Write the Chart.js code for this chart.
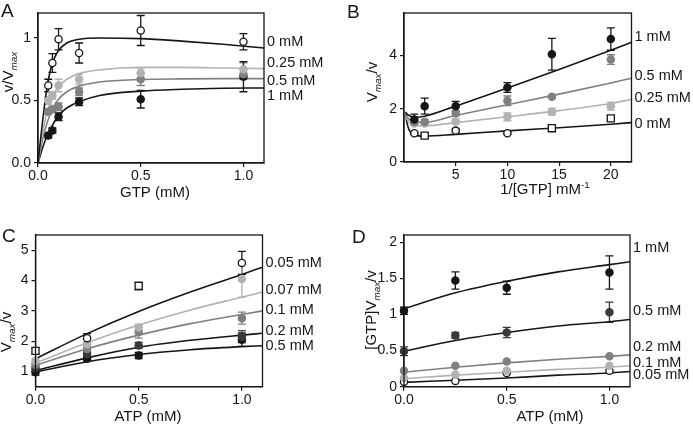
<!DOCTYPE html>
<html>
<head>
<meta charset="utf-8">
<script src="https://cdn.jsdelivr.net/npm/chart.js@4.4.1/dist/chart.umd.min.js"></script>
<style>
  body { margin: 0; background: #fff; }
  #wrap { position: relative; width: 693px; height: 426px; overflow: hidden; }
  canvas { position: absolute; }
</style>
</head>
<body>
<div id="wrap">
  <canvas id="chartA" width="346" height="213" style="left:0;top:0"></canvas>
  <canvas id="chartB" width="347" height="213" style="left:346px;top:0"></canvas>
  <canvas id="chartC" width="346" height="213" style="left:0;top:213px"></canvas>
  <canvas id="chartD" width="347" height="213" style="left:346px;top:213px"></canvas>
</div>
<script>
// ---- Panel A: v/Vmax vs GTP ----
const aTicksX = [0, 0.5, 1];
const aLabelsX = ['0.0', '0.5', '1.0'];
const aTicksY = [0, 0.5, 1];
const aLabelsY = ['0.0', '0.5', '1'];
const aNames = ['0 mM', '0.25 mM', '0.5 mM', '1 mM'];
const aLabelY = [0.965, 0.80, 0.66, 0.54];
const aGtp = [0.05, 0.07, 0.1, 0.2, 0.5, 1.0];
const aV0 = [0.62, 0.80, 0.99, 0.88, 1.06, 0.97];
const aE0 = [0.05, 0.075, 0.085, 0.08, 0.12, 0.065];
const aV025 = [0.50, 0.54, 0.62, 0.67, 0.72, 0.75];
const aE025 = [0.03, 0.03, 0.05, 0.04, 0.04, 0.05];
const aV05 = [0.41, 0.43, 0.45, 0.57, 0.67, 0.71];
const aE05 = [0.02, 0.02, 0.03, 0.03, 0.05, 0.04];
const aV1 = [0.22, 0.26, 0.37, 0.49, 0.51, 0.69];
const aE1 = [0.02, 0.02, 0.03, 0.03, 0.07, 0.12];
const aFitX = [0, 0.02, 0.04, 0.06, 0.08, 0.1, 0.14, 0.2, 0.3, 0.5, 0.7, 0.9, 1.1];
const aFit0 = [0, 0.30, 0.56, 0.74, 0.84, 0.90, 0.96, 0.99, 1.0, 0.995, 0.975, 0.95, 0.92];
const aFit025 = [0, 0.22, 0.38, 0.49, 0.56, 0.61, 0.67, 0.715, 0.745, 0.765, 0.765, 0.76, 0.755];
const aFit05 = [0, 0.17, 0.30, 0.39, 0.46, 0.51, 0.57, 0.615, 0.648, 0.668, 0.673, 0.675, 0.675];
const aFit1 = [0, 0.11, 0.20, 0.27, 0.33, 0.38, 0.44, 0.49, 0.54, 0.575, 0.59, 0.598, 0.60];

// ---- Panel B: Vmax/v vs 1/[GTP] ----
const bTicksX = [5, 10, 15, 20];
const bLabelsX = ['5', '10', '15', '20'];
const bTicksY = [0, 2, 4];
const bLabelsY = ['0', '2', '4'];
const bNames = ['1 mM', '0.5 mM', '0.25 mM', '0 mM'];
const bLabelY = [4.71, 3.22, 2.40, 1.43];
const bInv = [1, 2, 5, 10, 14.3, 20];
const bV1 = [1.60, 2.10, 2.10, 2.80, 4.05, 4.62];
const bE1 = [0.2, 0.3, 0.18, 0.18, 0.6, 0.42];
const bV05 = [1.50, 1.51, 1.83, 2.30, 2.45, 3.85];
const bE05 = [0.08, 0.08, 0.1, 0.18, 0.05, 0.18];
const bV025 = [1.45, 1.45, 1.52, 1.70, 1.89, 2.10];
const bE025 = [0.06, 0.06, 0.1, 0.15, 0.12, 0.15];
const bV0 = [1.08, 0.99, 1.18, 1.08, 1.27, 1.64];
const bE0 = [0.04, 0.06, 0.06, 0.04, 0.08, 0.1];
const bFitX = [0.15, 0.3, 0.5, 0.8, 1, 2, 5, 10, 15, 20, 22];
const bFit1 = [1.88, 1.8, 1.75, 1.7, 1.68, 1.72, 2.1, 2.78, 3.48, 4.2, 4.5];
const bFit05 = [1.82, 1.7, 1.6, 1.52, 1.5, 1.5, 1.75, 2.15, 2.55, 2.97, 3.15];
const bFit025 = [1.75, 1.6, 1.48, 1.4, 1.38, 1.36, 1.48, 1.7, 1.93, 2.2, 2.35];
const bFit0 = [1.8, 1.45, 1.2, 1.06, 1.01, 0.97, 1.04, 1.17, 1.29, 1.42, 1.48];

// ---- Panel C: Vmax/v vs ATP ----
const cTicksX = [0, 0.5, 1];
const cLabelsX = ['0.0', '0.5', '1.0'];
const cTicksY = [1, 2, 3, 4, 5];
const cLabelsY = ['1', '2', '3', '4', '5'];
const cNames = ['0.05 mM', '0.07 mM', '0.1 mM', '0.2 mM', '0.5 mM'];
const cLabelY = [4.59, 3.68, 3.03, 2.35, 1.85];
const cAtp = [0, 0.25, 0.5, 1.0];
const cV005 = [1.68, 2.10, 3.82, 4.58];
const cE005 = [0.1, 0.15, 0.12, 0.38];
const cV007 = [1.35, 1.90, 2.45, 4.05];
const cE007 = [0.08, 0.1, 0.1, 0.6];
const cV01 = [1.22, 1.74, 2.30, 2.76];
const cE01 = [0.06, 0.08, 0.2, 0.2];
const cV02 = [1.10, 1.58, 1.86, 2.15];
const cE02 = [0.06, 0.06, 0.1, 0.2];
const cV05 = [0.98, 1.42, 1.53, 2.05];
const cE05 = [0.1, 0.08, 0.1, 0.22];
const cFitX = [0, 0.25, 0.5, 0.75, 1.0, 1.1];
const cFit005 = [1.42, 2.25, 2.98, 3.62, 4.2, 4.44];
const cFit007 = [1.28, 1.95, 2.53, 3.03, 3.45, 3.62];
const cFit01 = [1.2, 1.75, 2.2, 2.58, 2.88, 3.0];
const cFit02 = [1.03, 1.45, 1.8, 2.03, 2.2, 2.26];
const cFit05 = [0.98, 1.32, 1.56, 1.72, 1.82, 1.85];

// ---- Panel D: [GTP]Vmax/v vs ATP ----
const dTicksX = [0, 0.5, 1];
const dLabelsX = ['0.0', '0.5', '1.0'];
const dTicksY = [0, 0.5, 1, 1.5, 2];
const dLabelsY = ['0', '0.5', '1', '1.5', '2'];
const dNames = ['1 mM', '0.5 mM', '0.2 mM', '0.1 mM', '0.05 mM'];
const dLabelY = [1.92, 1.05, 0.55, 0.33, 0.16];
const dAtp = [0, 0.25, 0.5, 1.0];
const dV1 = [1.05, 1.47, 1.37, 1.58];
const dE1 = [0.05, 0.12, 0.09, 0.23];
const dV05 = [0.49, 0.71, 0.75, 1.03];
const dE05 = [0.06, 0.04, 0.07, 0.14];
const dV02 = [0.22, 0.29, 0.35, 0.42];
const dV01 = [0.12, 0.17, 0.22, 0.29];
const dV005 = [0.07, 0.08, 0.19, 0.22];
const dFitX = [0, 0.25, 0.5, 0.75, 1.0, 1.1];
const dFit1 = [1.08, 1.3, 1.46, 1.59, 1.69, 1.73];
const dFit05 = [0.49, 0.64, 0.75, 0.84, 0.9, 0.93];
const dFit02 = [0.2, 0.27, 0.33, 0.38, 0.42, 0.44];
const dFit01 = [0.11, 0.16, 0.2, 0.24, 0.27, 0.29];
const dFit005 = [0.06, 0.09, 0.12, 0.16, 0.19, 0.21];

const FONT = "'Liberation Sans', Arial, Helvetica, sans-serif";
const BLACK = '#161616';
const DARK = '#3a3a3a';
const GRAY = '#808080';
const LIGHT = '#b2b2b2';
const WHITE = '#ffffff';

function pts(xs, ys) {
    return xs.map((x, i) => ({ x: x, y: ys[i] }));
}

function markers(label, xs, ys, errs, color, fill, shapes) {
    return {
        label: label,
        data: pts(xs, ys),
        errors: errs,
        showLine: false,
        pointStyle: shapes || 'circle',
        pointRadius: shapes ? shapes.map(s => s === 'rect' ? 5 : 3.6) : 3.6,
        borderWidth: 1.3,
        borderColor: color,
        backgroundColor: fill,
        clip: false,
        order: 1
    };
}

function curve(label, xs, ys, color) {
    return {
        label: label,
        data: pts(xs, ys),
        showLine: true,
        pointRadius: 0,
        borderWidth: 1.6,
        borderColor: color,
        cubicInterpolationMode: 'monotone',
        fill: false,
        order: 2
    };
}

function axis(range, ticks, labels, size, isX) {
    return {
        type: 'linear',
        min: range[0],
        max: range[1],
        afterBuildTicks: s => { s.ticks = ticks.map(v => ({ value: v })); },
        afterFit: s => { if (isX) s.height = size; else s.width = size; },
        grid: { display: true, drawOnChartArea: false, drawTicks: true, tickLength: 4, color: BLACK, lineWidth: 1.2 },
        border: { display: true, color: BLACK, width: 1.3 },
        ticks: {
            callback: (v, i) => labels[i],
            font: { family: FONT, size: 14 },
            color: BLACK,
            padding: isX ? 1 : 3,
            maxRotation: 0,
            autoSkip: false
        }
    };
}

// text with sub/superscript pieces, optionally rotated
function drawRich(ctx, segs, cx, cy, size, rotate) {
    ctx.save();
    ctx.translate(cx, cy);
    if (rotate) ctx.rotate(-Math.PI / 2);
    const fontOf = s => (s.it ? 'italic ' : '') + (s.sub || s.sup ? size * 0.66 : size) + 'px ' + FONT;
    let total = 0;
    segs.forEach(s => { ctx.font = fontOf(s); total += ctx.measureText(s.t).width; });
    let x = -total / 2;
    ctx.textAlign = 'left';
    ctx.textBaseline = 'middle';
    segs.forEach(s => {
        ctx.font = fontOf(s);
        const dy = s.sub ? size * 0.32 : (s.sup ? -size * 0.3 : 0);
        ctx.fillText(s.t, x, dy);
        x += ctx.measureText(s.t).width;
    });
    ctx.restore();
}

const errorBars = {
    id: 'errorBars',
    beforeDatasetsDraw(chart) {
        const ctx = chart.ctx, xs = chart.scales.x, ys = chart.scales.y;
        ctx.save();
        chart.data.datasets.forEach(ds => {
            if (!ds.errors) return;
            ctx.strokeStyle = ds.borderColor;
            ctx.lineWidth = 1.3;
            ds.data.forEach((p, i) => {
                const e = ds.errors[i];
                if (!e) return;
                const px = xs.getPixelForValue(p.x);
                const top = ys.getPixelForValue(p.y + e);
                const bot = ys.getPixelForValue(p.y - e);
                ctx.beginPath();
                ctx.moveTo(px, top); ctx.lineTo(px, bot);
                ctx.moveTo(px - 4, top); ctx.lineTo(px + 4, top);
                ctx.moveTo(px - 4, bot); ctx.lineTo(px + 4, bot);
                ctx.stroke();
            });
        });
        ctx.restore();
    }
};

function decor(o) {
    return {
        id: 'decor',
        afterDraw(chart) {
            const ctx = chart.ctx, a = chart.chartArea, ys = chart.scales.y;
            ctx.save();
            ctx.strokeStyle = BLACK;
            ctx.lineWidth = 1.3;
            ctx.strokeRect(a.left, a.top, a.right - a.left, a.bottom - a.top);
            ctx.fillStyle = BLACK;
            ctx.font = '19px ' + FONT;
            ctx.textAlign = 'left';
            ctx.textBaseline = 'top';
            ctx.fillText(o.letter, o.letterAt[0], o.letterAt[1]);
            drawRich(ctx, o.yTitle, o.yTitleAt[0], o.yTitleAt[1], 15, true);
            drawRich(ctx, o.xTitle, o.xTitleAt[0], o.xTitleAt[1], 15, false);
            ctx.font = '14.5px ' + FONT;
            ctx.textAlign = 'left';
            ctx.textBaseline = 'middle';
            o.names.forEach((n, i) => ctx.fillText(n, a.right + 3, ys.getPixelForValue(o.labelY[i])));
            ctx.restore();
        }
    };
}

function makeChart(id, o) {
    const cv = document.getElementById(id);
    new Chart(cv, {
        type: 'scatter',
        data: { datasets: o.datasets },
        options: {
            responsive: false,
            animation: false,
            events: [],
            layout: { padding: { left: 0, top: o.area[1], right: cv.width - o.area[2], bottom: 0 } },
            plugins: { legend: { display: false }, tooltip: { enabled: false } },
            scales: {
                x: axis(o.xRange, o.xTicks, o.xLabels, cv.height - o.area[3], true),
                y: axis(o.yRange, o.yTicks, o.yLabels, o.area[0], false)
            }
        },
        plugins: [errorBars, decor(o)]
    });
}

const vmaxSub = [{ t: 'V' }, { t: 'max', sub: true, it: true }];

makeChart('chartA', {
    area: [38, 13, 264, 163],
    xRange: [0, 1.1], yRange: [0, 1.2],
    xTicks: aTicksX, xLabels: aLabelsX, yTicks: aTicksY, yLabels: aLabelsY,
    letter: 'A', letterAt: [1, 2],
    yTitle: [{ t: 'v/' }].concat(vmaxSub), yTitleAt: [9, 72],
    xTitle: [{ t: 'GTP (mM)' }], xTitleAt: [155, 193],
    names: aNames, labelY: aLabelY,
    datasets: [
        markers('0 mM', aGtp, aV0, aE0, BLACK, WHITE),
        markers('0.25 mM', aGtp, aV025, aE025, LIGHT, LIGHT),
        markers('0.5 mM', aGtp, aV05, aE05, GRAY, GRAY),
        markers('1 mM', aGtp, aV1, aE1, BLACK, BLACK),
        curve('0 mM fit', aFitX, aFit0, BLACK),
        curve('0.25 mM fit', aFitX, aFit025, LIGHT),
        curve('0.5 mM fit', aFitX, aFit05, GRAY),
        curve('1 mM fit', aFitX, aFit1, BLACK)
    ]
});

makeChart('chartB', {
    area: [58, 13, 285.5, 162],
    xRange: [0, 22], yRange: [0, 5.6],
    xTicks: bTicksX, xLabels: bLabelsX, yTicks: bTicksY, yLabels: bLabelsY,
    letter: 'B', letterAt: [1, 3],
    yTitle: vmaxSub.concat([{ t: '/v' }]), yTitleAt: [27, 82],
    xTitle: [{ t: '1/[GTP] mM' }, { t: '-1', sup: true }], xTitleAt: [199, 190],
    names: bNames, labelY: bLabelY,
    datasets: [
        markers('1 mM', bInv, bV1, bE1, BLACK, BLACK),
        markers('0.5 mM', bInv, bV05, bE05, GRAY, GRAY),
        markers('0.25 mM', bInv, bV025, bE025, LIGHT, LIGHT),
        markers('0 mM', bInv, bV0, bE0, BLACK, WHITE, ['circle', 'rect', 'circle', 'circle', 'rect', 'rect']),
        curve('1 mM fit', bFitX, bFit1, BLACK),
        curve('0.5 mM fit', bFitX, bFit05, GRAY),
        curve('0.25 mM fit', bFitX, bFit025, LIGHT),
        curve('0 mM fit', bFitX, bFit0, BLACK)
    ]
});

makeChart('chartC', {
    area: [35.5, 22, 262.5, 173.7],
    xRange: [0, 1.1], yRange: [0.5, 5.5],
    xTicks: cTicksX, xLabels: cLabelsX, yTicks: cTicksY, yLabels: cLabelsY,
    letter: 'C', letterAt: [2, 14],
    yTitle: vmaxSub.concat([{ t: '/v' }]), yTitleAt: [7, 119],
    xTitle: [{ t: 'ATP (mM)' }], xTitleAt: [148, 204],
    names: cNames, labelY: cLabelY,
    datasets: [
        markers('0.05 mM', cAtp, cV005, cE005, BLACK, WHITE, ['rect', 'circle', 'rect', 'circle']),
        markers('0.07 mM', cAtp, cV007, cE007, LIGHT, LIGHT),
        markers('0.1 mM', cAtp, cV01, cE01, GRAY, GRAY),
        markers('0.2 mM', cAtp, cV02, cE02, DARK, DARK),
        markers('0.5 mM', cAtp, cV05, cE05, BLACK, BLACK),
        curve('0.05 mM fit', cFitX, cFit005, BLACK),
        curve('0.07 mM fit', cFitX, cFit007, LIGHT),
        curve('0.1 mM fit', cFitX, cFit01, GRAY),
        curve('0.2 mM fit', cFitX, cFit02, BLACK),
        curve('0.5 mM fit', cFitX, cFit05, BLACK)
    ]
});

makeChart('chartD', {
    area: [58, 22, 284, 173.7],
    xRange: [0, 1.1], yRange: [0, 2.1],
    xTicks: dTicksX, xLabels: dLabelsX, yTicks: dTicksY, yLabels: dLabelsY,
    letter: 'D', letterAt: [6, 15],
    yTitle: [{ t: '[GTP]' }].concat(vmaxSub, [{ t: '/v' }]), yTitleAt: [26, 97],
    xTitle: [{ t: 'ATP (mM)' }], xTitleAt: [204, 204],
    names: dNames, labelY: dLabelY,
    datasets: [
        markers('1 mM', dAtp, dV1, dE1, BLACK, BLACK),
        markers('0.5 mM', dAtp, dV05, dE05, DARK, DARK),
        markers('0.2 mM', dAtp, dV02, null, GRAY, GRAY),
        markers('0.1 mM', dAtp, dV01, null, LIGHT, LIGHT),
        markers('0.05 mM', dAtp, dV005, null, BLACK, WHITE),
        curve('1 mM fit', dFitX, dFit1, BLACK),
        curve('0.5 mM fit', dFitX, dFit05, BLACK),
        curve('0.2 mM fit', dFitX, dFit02, GRAY),
        curve('0.1 mM fit', dFitX, dFit01, LIGHT),
        curve('0.05 mM fit', dFitX, dFit005, BLACK)
    ]
});
</script>
</body>
</html>
